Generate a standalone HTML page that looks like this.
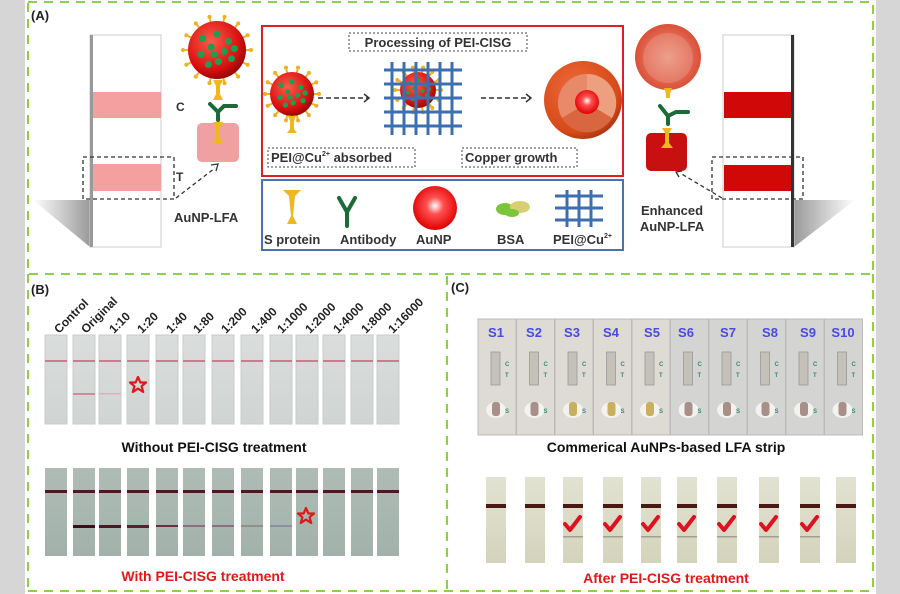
<!DOCTYPE html>
<html><head><meta charset="utf-8">
<style>
html,body{margin:0;padding:0;background:#d6d6d6;}
svg{display:block;font-family:"Liberation Sans",Arial,sans-serif;}
</style></head>
<body>
<svg id="s" width="900" height="594" viewBox="0 0 900 594" xmlns="http://www.w3.org/2000/svg">
<defs>
<radialGradient id="rv" cx="0.4" cy="0.35" r="0.7"><stop offset="0" stop-color="#ff5a4a"/><stop offset="0.7" stop-color="#d81010"/><stop offset="1" stop-color="#8a0505"/></radialGradient>
<radialGradient id="au" cx="0.5" cy="0.45" r="0.55"><stop offset="0" stop-color="#fff"/><stop offset="0.35" stop-color="#ff5050"/><stop offset="1" stop-color="#e00000"/></radialGradient>
<radialGradient id="rv2" cx="0.5" cy="0.5" r="0.55"><stop offset="0" stop-color="#f4c0a8"/><stop offset="0.7" stop-color="#e0604a"/><stop offset="1" stop-color="#d84a30"/></radialGradient>
<radialGradient id="cu" cx="0.4" cy="0.35" r="0.7"><stop offset="0" stop-color="#f06a3a"/><stop offset="0.8" stop-color="#d54a18"/><stop offset="1" stop-color="#a83010"/></radialGradient>
<linearGradient id="gs" x1="0" y1="0" x2="0" y2="1"><stop offset="0" stop-color="#dadddc"/><stop offset="1" stop-color="#d0d4d3"/></linearGradient>
<linearGradient id="gb" x1="0" y1="0" x2="0" y2="1"><stop offset="0" stop-color="#aebcb5"/><stop offset="1" stop-color="#a2b2aa"/></linearGradient>
<linearGradient id="gc" x1="0" y1="0" x2="0" y2="1"><stop offset="0" stop-color="#e2e2d2"/><stop offset="1" stop-color="#d4d4bc"/></linearGradient>
<linearGradient id="sh" x1="0" y1="0" x2="1" y2="0"><stop offset="0" stop-color="#fff"/><stop offset="1" stop-color="#9a9a9a"/></linearGradient>
<linearGradient id="sh2" x1="1" y1="0" x2="0" y2="0"><stop offset="0" stop-color="#fff"/><stop offset="1" stop-color="#9a9a9a"/></linearGradient>
</defs>
<rect x="25" y="0" width="851" height="594" fill="#fff"/>
<g fill="none" stroke="#8fcf4a" stroke-width="2" stroke-dasharray="9,7">
<rect x="28" y="2" width="845" height="272"/>
<line x1="28" y1="274" x2="28" y2="592"/>
<line x1="447" y1="276" x2="447" y2="592"/>
<line x1="873" y1="274" x2="873" y2="592"/>
<line x1="28" y1="591" x2="873" y2="591"/>
</g>
<g font-weight="bold" font-size="13" fill="#222">
<text x="31" y="20">(A)</text><text x="31" y="294">(B)</text><text x="451" y="292">(C)</text>
</g>

<polygon points="33,200 90,200 90,247" fill="url(#sh)"/>
<rect x="90" y="35" width="71" height="212" fill="#fff" stroke="#ccc"/>
<rect x="90" y="35" width="3" height="212" fill="#999"/>
<rect x="93" y="92" width="68" height="26" fill="#f5a0a0"/>
<rect x="93" y="164" width="68" height="27" fill="#f5a0a0"/>
<rect x="83" y="157" width="91" height="42" fill="none" stroke="#333" stroke-dasharray="4,3" stroke-width="1.3"/>
<text x="176" y="111" font-size="12" font-weight="bold" fill="#333">C</text>
<text x="176" y="181" font-size="12" font-weight="bold" fill="#333">T</text>
<path d="M176,198 L215,168" stroke="#333" stroke-dasharray="4,3" stroke-width="1.3"/>
<path d="M211,165 L218,164 L216,171" fill="none" stroke="#333" stroke-width="1.3"/>
<text x="174" y="222" font-size="13" font-weight="bold" fill="#333">AuNP-LFA</text>
<g id="v1"></g>
<rect x="197" y="123" width="42" height="39" rx="5" fill="#f0a0a0"/>
<path d="M213,122 h10 l-3,6 v10 l4,6 h-12 l4,-6 v-10z" fill="#f0b820"/>
<path d="M218,120 v-8 M218,112 l-8,-8 M218,112 l6,-6 h12" stroke="#1a6b35" stroke-width="4" fill="none" stroke-linecap="round"/>
<path d="M213,80 h10 l-3,6 v8 l3,6 h-10 l3,-6 v-8z" fill="#f0b820"/>

<rect x="262" y="26" width="361" height="150" fill="#fff" stroke="#e02020" stroke-width="2"/>
<rect x="349" y="33" width="178" height="18" fill="none" stroke="#444" stroke-dasharray="2,2"/>
<text x="438" y="47" font-size="13" font-weight="bold" fill="#333" text-anchor="middle">Processing of PEI-CISG</text>
<rect x="268" y="148" width="147" height="19" fill="none" stroke="#444" stroke-dasharray="2,2"/>
<text x="271" y="162" font-size="13" font-weight="bold" fill="#333">PEI@Cu<tspan font-size="7" dy="-6">2+</tspan><tspan dy="6"> absorbed</tspan></text>
<rect x="462" y="148" width="115" height="19" fill="none" stroke="#444" stroke-dasharray="2,2"/>
<text x="465" y="162" font-size="13" font-weight="bold" fill="#333">Copper growth</text>
<path d="M318,98 H368" stroke="#333" stroke-dasharray="5,3" stroke-width="1.5"/><path d="M364,94 L369,98 L364,102" fill="none" stroke="#333" stroke-width="1.5"/>
<path d="M481,98 H530" stroke="#333" stroke-dasharray="5,3" stroke-width="1.5"/><path d="M526,94 L531,98 L526,102" fill="none" stroke="#333" stroke-width="1.5"/>
<g id="grid1"></g>
<circle cx="583" cy="100" r="39" fill="url(#cu)"/>
<circle cx="587" cy="103" r="29" fill="#e88a6a"/>
<path d="M587,103 L587,74 A29,29 0 0 1 612,118z" fill="#eda080"/>
<path d="M587,103 L612,118 A29,29 0 0 1 562,118z" fill="#d8663e"/>
<circle cx="587" cy="102" r="12" fill="url(#au)"/>

<rect x="262" y="180" width="361" height="70" fill="#fff" stroke="#4a72b0" stroke-width="2"/>
<path d="M283,190 h18 l-6,6 l-2,20 l4,8 h-10 l4,-8 l-2,-20z" fill="#f0b820"/>
<path d="M347,226 v-14 M347,212 l-8,-14 M347,212 l8,-14" stroke="#1a6b35" stroke-width="4" fill="none" stroke-linecap="round"/>
<circle cx="435" cy="208" r="22" fill="url(#au)"/>
<g fill="#7cc43a"><ellipse cx="505" cy="209" rx="9" ry="6"/><ellipse cx="520" cy="207" rx="10" ry="6" fill="#d8d070"/><ellipse cx="512" cy="213" rx="7" ry="4"/></g>
<g stroke="#3d6fb0" stroke-width="3"><path d="M567,190 v37 M579,190 v37 M591,190 v37 M555,196 h48 M555,208 h48 M555,220 h48"/></g>
<g font-size="13" font-weight="bold" fill="#333">
<text x="264" y="244">S protein</text><text x="340" y="244">Antibody</text><text x="416" y="244">AuNP</text><text x="497" y="244">BSA</text>
<text x="553" y="244">PEI@Cu<tspan font-size="7" dy="-6">2+</tspan></text></g>

<circle cx="668" cy="57" r="33" fill="url(#rv2)"/>
<circle cx="668" cy="58" r="25" fill="#e88a78" opacity="0.6"/>
<path d="M664,88 h8 l-2,6 v4 h-4 v-4z" fill="#f0b820"/>
<path d="M668,124 v-8 M668,116 l-8,-10 M668,116 l8,-4 h12" stroke="#1a6b35" stroke-width="4" fill="none" stroke-linecap="round"/>
<rect x="646" y="133" width="41" height="38" rx="5" fill="#c81010"/>
<path d="M662,128 h10 l-3,5 v10 l4,5 h-12 l4,-5 v-10z" fill="#f0b820"/>
<path d="M722,198 L680,173" stroke="#333" stroke-dasharray="4,3" stroke-width="1.3"/>
<path d="M682,171 L676,172 L679,177" fill="none" stroke="#333" stroke-width="1.3"/>
<text x="672" y="215" font-size="13" font-weight="bold" fill="#333" text-anchor="middle">Enhanced</text>
<text x="672" y="231" font-size="13" font-weight="bold" fill="#333" text-anchor="middle">AuNP-LFA</text>
<polygon points="794,200 855,200 794,247" fill="url(#sh2)"/>
<rect x="723" y="35" width="71" height="212" fill="#fff" stroke="#ccc"/>
<rect x="791" y="35" width="3" height="212" fill="#333"/>
<rect x="724" y="92" width="67" height="26" fill="#d00808"/>
<rect x="724" y="165" width="67" height="26" fill="#d00808"/>
<rect x="712" y="157" width="91" height="42" fill="none" stroke="#333" stroke-dasharray="4,3" stroke-width="1.3"/>

<g font-size="12" font-weight="bold" fill="#222">
<text transform="translate(59,334) rotate(-45)">Control</text>
<text transform="translate(86,334) rotate(-45)">Original</text>
<text transform="translate(114,334) rotate(-45)">1:10</text>
<text transform="translate(142,334) rotate(-45)">1:20</text>
<text transform="translate(171,334) rotate(-45)">1:40</text>
<text transform="translate(198,334) rotate(-45)">1:80</text>
<text transform="translate(226,334) rotate(-45)">1:200</text>
<text transform="translate(256,334) rotate(-45)">1:400</text>
<text transform="translate(282,334) rotate(-45)">1:1000</text>
<text transform="translate(310,334) rotate(-45)">1:2000</text>
<text transform="translate(338,334) rotate(-45)">1:4000</text>
<text transform="translate(366,334) rotate(-45)">1:8000</text>
<text transform="translate(393,334) rotate(-45)">1:16000</text>
</g>
<g id="bstrips"></g>
<text x="214" y="452" font-size="14" font-weight="bold" fill="#111" text-anchor="middle">Without PEI-CISG treatment</text>
<text x="203" y="581" font-size="14" font-weight="bold" fill="#e01818" text-anchor="middle">With PEI-CISG treatment</text>
<g fill="none" stroke="#e01818" stroke-width="2.2" stroke-linejoin="round">
<path transform="translate(138,385)" d="M0,-8 L2.4,-2.5 L8,-2.5 L3.6,1.2 L5.2,7 L0,3.6 L-5.2,7 L-3.6,1.2 L-8,-2.5 L-2.4,-2.5Z"/>
<path transform="translate(306,516)" d="M0,-8 L2.4,-2.5 L8,-2.5 L3.6,1.2 L5.2,7 L0,3.6 L-5.2,7 L-3.6,1.2 L-8,-2.5 L-2.4,-2.5Z"/>
</g>

<g id="ctiles"></g>
<g font-size="13" font-weight="bold" fill="#4a4ae0" text-anchor="middle">
<text x="496" y="337">S1</text><text x="534" y="337">S2</text><text x="572" y="337">S3</text><text x="611" y="337">S4</text><text x="652" y="337">S5</text>
<text x="686" y="337">S6</text><text x="728" y="337">S7</text><text x="770" y="337">S8</text><text x="808" y="337">S9</text><text x="843" y="337">S10</text></g>
<g id="cts" font-size="6" font-weight="bold" fill="#3a8a70"></g>
<text x="666" y="452" font-size="14" font-weight="bold" fill="#111" text-anchor="middle">Commerical AuNPs-based LFA strip</text>
<g id="cb"></g>
<text x="666" y="583" font-size="14" font-weight="bold" fill="#e01818" text-anchor="middle">After PEI-CISG treatment</text>
</svg>
<script>
var NS="http://www.w3.org/2000/svg";
function el(p,t,a){var e=document.createElementNS(NS,t);for(var k in a)e.setAttribute(k,a[k]);document.getElementById(p).appendChild(e);return e;}
function virus(g,cx,cy,r){
 for(var i=0;i<14;i++){var a=i/14*Math.PI*2;el(g,'line',{x1:cx+Math.cos(a)*r*0.9,y1:cy+Math.sin(a)*r*0.9,x2:cx+Math.cos(a)*(r+5),y2:cy+Math.sin(a)*(r+5),stroke:'#f0b020','stroke-width':2});el(g,'circle',{cx:cx+Math.cos(a)*(r+5),cy:cy+Math.sin(a)*(r+5),r:2,fill:'#f0b020'});}
 el(g,'circle',{cx:cx,cy:cy,r:r,fill:'url(#rv)'});
 var pts=[[-.5,-.4],[0,-.55],[.4,-.3],[-.2,-.1],[.25,.05],[-.55,.15],[.05,.4],[.5,.3],[-.3,.5],[.6,-.05],[-.1,.15]];
 pts.forEach(function(p){el(g,'circle',{cx:cx+p[0]*r,cy:cy+p[1]*r,r:r*0.12,fill:'#1aa050'});});
}
virus('v1',217,50,29);
var gr=document.getElementById('grid1');
var sv=document.createElementNS(NS,'g');sv.setAttribute('id','v2');document.getElementById('s').insertBefore(sv,gr);
virus('v2',292,94,22);
el('v2','path',{d:'M288,116 h8 l-2,5 v8 l3,4 h-10 l3,-4 v-8z',fill:'#f0b820'});
virus('grid1',418,90,18);
[392,404,416,428,440,452].forEach(function(x){el('grid1','line',{x1:x,y1:62,x2:x,y2:135,stroke:'#3d6fb0','stroke-width':3});});
[70,84,98,112,126].forEach(function(y){el('grid1','line',{x1:384,y1:y,x2:462,y2:y,stroke:'#3d6fb0','stroke-width':3});});
var bx=[45,73,99,127,156,183,212,241,270,296,323,351,377];
bx.forEach(function(x,i){
 el('bstrips','rect',{x:x,y:335,width:22,height:89,fill:'url(#gs)',stroke:'#c8cccb'});
 el('bstrips','rect',{x:x,y:360,width:22,height:2,fill:'#d07a90'});
 if(i==1)el('bstrips','rect',{x:x,y:393,width:22,height:2,fill:'#d08a9a'});
 if(i==2)el('bstrips','rect',{x:x,y:393,width:22,height:1.5,fill:'#e0b0ba'});
 el('bstrips','rect',{x:x,y:468,width:22,height:88,fill:'url(#gb)'});
 el('bstrips','rect',{x:x,y:490,width:22,height:3,fill:'#4a1a22'});
 var tc=['','#3a1018','#4a1a22','#5a2030','#6a3040','#8a7080','#8a7080','#909088','#8a90a0'][i]||'';
 if(tc)el('bstrips','rect',{x:x,y:525,width:22,height:i<4?3:2,fill:tc});
});
for(var i=0;i<10;i++){var x=478+i*38.5;
 el('ctiles','rect',{x:x,y:319,width:38,height:116,fill:i<5?'#dddbd4':'#d4d4d2',stroke:'#bbb'});
 el('ctiles','rect',{x:x+13,y:352,width:9,height:33,fill:'#c4c1b9',stroke:'#999','stroke-width':0.8});
 el('ctiles','ellipse',{cx:x+18,cy:410,rx:10,ry:8,fill:'#f3f2ee'});
 el('ctiles','rect',{x:x+14,y:402,width:8,height:14,rx:3,fill:(i>=2&&i<=4)?'#c8b060':'#a89088'});
 var t=el('cts','text',{x:x+27,y:366});t.textContent='C';
 t=el('cts','text',{x:x+27,y:377});t.textContent='T';
 t=el('cts','text',{x:x+27,y:413});t.textContent='S';
}
var cx=[486,525,563,603,641,677,717,759,800,836];
cx.forEach(function(x,i){
 el('cb','rect',{x:x,y:477,width:20,height:86,fill:'url(#gc)'});
 el('cb','rect',{x:x,y:504,width:20,height:4,fill:'#4a1a12'});
 if(i>=2&&i<=8){el('cb','rect',{x:x,y:536,width:20,height:1.5,fill:'#a0a090'});
  el('cb','path',{d:'M'+(x+2)+',524 l5,6 l10,-13',stroke:'#e01020','stroke-width':4,fill:'none','stroke-linecap':'round','stroke-linejoin':'round'});}
});
</script>
</body></html>
